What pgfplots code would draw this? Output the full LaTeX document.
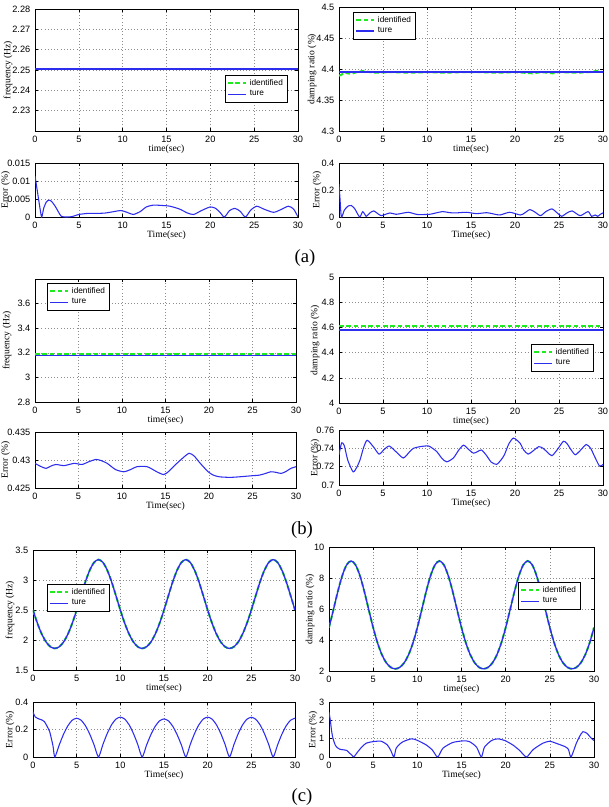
\documentclass[border=0pt]{standalone}
\usepackage{fontspec}
\usepackage{pgfplots}
\pgfplotsset{compat=1.18}
\usepackage{pgfplotstable}
\newfontfamily\lsans{Liberation Sans}
\newfontfamily\lserif{Liberation Serif}
\definecolor{mgreen}{RGB}{30,235,30}
\definecolor{mblue}{RGB}{45,45,240}
\newcommand\tickfont{\lsans\fontsize{6.9}{7}\selectfont}
\newcommand\labfont{\lserif\fontsize{7.2}{8}\selectfont}
\newcommand\legfont{\lsans\fontsize{6.2}{7}\selectfont}
\newcommand\capfont{\lserif\fontsize{14}{16}\selectfont}

\pgfplotsset{
  legend image code/.code={\draw[#1] (0pt,0pt) -- (13.5pt,0pt);},
  mat/.style={
    scale only axis, anchor=north west,
    xmin=0, xmax=30, xtick={0,5,10,15,20,25,30},
    xticklabels={0,5,10,15,20,25,30},
    scaled y ticks=false, scaled x ticks=false,
    tick align=inside, major tick length=2.2pt,
    grid=major, grid style={dotted, black!45, line width=0.35pt},
    axis line style={line width=0.5pt},
    every tick/.style={black, line width=0.4pt},
    tick label style={font=\tickfont},
    /pgf/number format/assume math mode=true,
    every axis x label/.style={at={(axis description cs:0.5,0)}, anchor=center, yshift=-13.5pt, font=\labfont},
    every axis y label/.style={at={(axis description cs:0,0.5)}, anchor=center, rotate=90, font=\labfont},
    legend style={draw=black, line width=0.4pt, fill=white, font=\legfont, inner xsep=1.5pt, inner ysep=1pt, anchor=north west, cells={anchor=west}, row sep=-1.5pt},
  },
  idf/.style={mgreen, line width=1.5pt, dash pattern=on 3.5pt off 2pt},
  tru/.style={mblue, line width=1pt},
  err/.style={mblue, line width=0.8pt, smooth, tension=0.4},
}

\pgfplotstableread{
t f d
0 2.500 4.800
0.5 2.281 5.953
1 2.100 7.130
1.5 1.967 8.152
2 1.887 8.851
2.5 1.860 9.100
3 1.887 8.851
3.5 1.967 8.152
4 2.100 7.130
4.5 2.281 5.953
5 2.500 4.800
5.5 2.738 3.803
6 2.970 3.038
6.5 3.164 2.522
7 3.294 2.233
7.5 3.340 2.140
8 3.294 2.233
8.5 3.164 2.522
9 2.970 3.038
9.5 2.738 3.803
10 2.500 4.800
10.5 2.281 5.953
11 2.100 7.130
11.5 1.967 8.152
12 1.887 8.851
12.5 1.860 9.100
13 1.887 8.851
13.5 1.967 8.152
14 2.100 7.130
14.5 2.281 5.953
15 2.500 4.800
15.5 2.738 3.803
16 2.970 3.038
16.5 3.164 2.522
17 3.294 2.233
17.5 3.340 2.140
18 3.294 2.233
18.5 3.164 2.522
19 2.970 3.038
19.5 2.738 3.803
20 2.500 4.800
20.5 2.281 5.953
21 2.100 7.130
21.5 1.967 8.152
22 1.887 8.851
22.5 1.860 9.100
23 1.887 8.851
23.5 1.967 8.152
24 2.100 7.130
24.5 2.281 5.953
25 2.500 4.800
25.5 2.738 3.803
26 2.970 3.038
26.5 3.164 2.522
27 3.294 2.233
27.5 3.340 2.140
28 3.294 2.233
28.5 3.164 2.522
29 2.970 3.038
29.5 2.738 3.803
30 2.500 4.800
}\ctab

\begin{document}
\begin{tikzpicture}
\useasboundingbox (0,0) rectangle (456.75pt,-605.25pt);

% ---------------- (a) ----------------
\begin{axis}[mat, at={(26.25pt,-6.75pt)}, width=197.25pt, height=91.5pt,
  ymin=2.22, ymax=2.28, ytick={2.23,2.24,2.25,2.26,2.27,2.28},
  yticklabels={2.23,2.24,2.25,2.26,2.27,2.28},
  xlabel={time(sec)}, ylabel={frequency (Hz)},
  ylabel style={at={([xshift=-20.25pt]axis description cs:0,0.5)}},
  legend style={at={(0.722,0.459)}}]
\addplot[idf] coordinates {(0,2.2506)(30,2.2506)}; \addlegendentry{identified}
\addplot[tru, line width=0.8pt] coordinates {(0,2.2505)(30,2.2505)}; \addlegendentry{ture}
\end{axis}

\begin{axis}[mat, at={(254.25pt,-5.25pt)}, width=198pt, height=93pt,
  ymin=4.3, ymax=4.5, ytick={4.3,4.35,4.4,4.45,4.5},
  yticklabels={4.3,4.35,4.4,4.45,4.5},
  xlabel={time(sec)}, ylabel={damping ratio (\%)},
  ylabel style={at={([xshift=-20.25pt]axis description cs:0,0.5)}},
  legend style={at={(0.053,0.96)}}]
\addplot[idf] coordinates {(0,4.389)(0.3,4.391)(0.6,4.394)(1,4.393)(1.4,4.392)(2,4.395)(2.8,4.397)(3.5,4.395)(4,4.394)(6,4.395)(8,4.394)(10,4.395)(12,4.394)(14,4.395)(16,4.395)(18,4.394)(20,4.395)(22,4.393)(23,4.395)(24.3,4.393)(25,4.395)(27,4.394)(28.5,4.395)(29.3,4.397)(30,4.395)}; \addlegendentry{identified}
\addplot[tru, line width=1.3pt] coordinates {(0,4.395)(30,4.395)}; \addlegendentry{ture}
\end{axis}

\begin{axis}[mat, at={(26.25pt,-122.25pt)}, width=197.25pt, height=40.5pt,
  ymin=0, ymax=0.015, ytick={0,0.005,0.01,0.015},
  yticklabels={0,0.005,0.01,0.015},
  xlabel={Time(sec)}, ylabel={Error (\%)},
  ylabel style={at={([xshift=-22pt]axis description cs:0,0.5)}}]
\addplot[err] coordinates {(0,0.0114)(0.25,0.0075)(0.5,0.0035)(0.76,0)(1.0,0.0025)(1.3,0.0042)(1.6,0.0047)(1.9,0.0043)(2.3,0.003)(2.7,0.0013)(3.0,0.0002)(3.5,0)(4.2,0.0001)(5,0.0007)(6,0.001)(7,0.001)(8,0.0011)(9,0.0015)(9.8,0.0018)(10.5,0.0013)(11.2,0.0007)(12,0.0015)(12.7,0.0028)(13.5,0.0033)(14.5,0.0032)(15.4,0.003)(16.5,0.0022)(17.4,0.0011)(18.1,0.0007)(19,0.0018)(20,0.0028)(20.6,0.0024)(21.1,0.0013)(21.6,0)(22.2,0.0018)(22.8,0.0024)(23.4,0.0016)(24.0,0)(24.6,0.0019)(25.3,0.003)(26.1,0.0022)(27.2,0.0013)(28.0,0.002)(28.9,0.003)(29.5,0.0022)(30,0)};
\end{axis}

\begin{axis}[mat, at={(254.25pt,-122.25pt)}, width=198pt, height=40.5pt,
  ymin=0, ymax=0.4, ytick={0,0.2,0.4},
  yticklabels={0,0.2,0.4},
  xlabel={Time(sec)}, ylabel={Error (\%)},
  ylabel style={at={([xshift=-16.5pt]axis description cs:0,0.5)}}]
\addplot[err] coordinates {(0,0.245)(0.1,0.15)(0.27,0)(0.6,0.05)(1.0,0.08)(1.4,0.085)(1.8,0.06)(2.35,0)(2.7,0.04)(3.1,0.005)(3.5,0.03)(3.95,0.045)(4.4,0.025)(4.8,0.01)(5.3,0.02)(5.8,0.03)(6.5,0.02)(7.2,0.028)(7.9,0.035)(8.5,0.025)(9,0.018)(10.3,0.02)(11,0.03)(11.8,0.04)(12.5,0.033)(13.2,0.03)(14.5,0.035)(15.6,0.025)(16.8,0.032)(17.6,0.022)(18.3,0.015)(19.4,0.035)(20.6,0.015)(21.1,0.03)(21.7,0.055)(22.3,0.035)(22.9,0.01)(23.5,0.04)(24.2,0.06)(24.8,0.03)(25.3,0.005)(25.9,0.03)(26.5,0.045)(27.4,0.01)(28.3,0.04)(28.7,0.005)(29.1,0.015)(29.4,0.005)(29.7,0.02)(30,0.03)};
\end{axis}

\node[font=\capfont] at (228.75pt,-193.5pt) {(a)};

% ---------------- (b) ----------------
\begin{axis}[mat, at={(26.25pt,-209.25pt)}, width=195.75pt, height=92.25pt,
  ymin=2.8, ymax=3.8, ytick={2.8,3,3.2,3.4,3.6},
  yticklabels={2.8,3,3.2,3.4,3.6},
  xlabel={time(sec)}, ylabel={frequency (Hz)},
  ylabel style={at={([xshift=-21pt]axis description cs:0,0.5)}},
  legend style={at={(0.046,0.967)}}]
\addplot[idf] coordinates {(0,3.193)(30,3.193)}; \addlegendentry{identified}
\addplot[tru, line width=1.1pt] coordinates {(0,3.18)(30,3.18)}; \addlegendentry{ture}
\end{axis}

\begin{axis}[mat, at={(254.25pt,-207.75pt)}, width=198pt, height=94.5pt,
  ymin=4, ymax=5, ytick={4,4.2,4.4,4.6,4.8,5},
  yticklabels={4,4.2,4.4,4.6,4.8,5},
  xlabel={time(sec)}, ylabel={damping ratio (\%)},
  ylabel style={at={([xshift=-18pt]axis description cs:0,0.5)}},
  legend style={at={(0.727,0.468)}}]
\addplot[idf] coordinates {(0,4.615)(30,4.615)}; \addlegendentry{identified}
\addplot[tru] coordinates {(0,4.58)(30,4.58)}; \addlegendentry{ture}
\end{axis}

\begin{axis}[mat, at={(26.25pt,-324pt)}, width=195.75pt, height=42pt,
  ymin=0.425, ymax=0.435, ytick={0.425,0.43,0.435},
  yticklabels={0.425,0.43,0.435},
  xlabel={Time(sec)}, ylabel={Error (\%)},
  ylabel style={at={([xshift=-22pt]axis description cs:0,0.5)}}]
\addplot[err] coordinates {(0,0.4294)(0.6,0.4289)(1.26,0.4285)(1.8,0.4289)(2.4,0.4292)(3.35,0.429)(4.5,0.4294)(5.4,0.4292)(6.2,0.4297)(7.0,0.4301)(7.6,0.4299)(8.3,0.4294)(9.25,0.4283)(10.2,0.4279)(11,0.4283)(11.7,0.4288)(12.9,0.4288)(14,0.4279)(14.8,0.4274)(15.4,0.428)(15.9,0.4288)(16.8,0.4301)(17.7,0.4312)(18.3,0.4307)(19,0.4294)(19.9,0.4279)(20.5,0.4273)(21.2,0.427)(22.4,0.4269)(23.5,0.427)(25,0.4272)(25.8,0.4273)(26.5,0.4276)(27.1,0.4279)(27.7,0.4278)(28.3,0.4276)(28.9,0.428)(29.4,0.4285)(30,0.4288)};
\end{axis}

\begin{axis}[mat, at={(254.25pt,-322.5pt)}, width=198pt, height=41.25pt,
  ymin=0.7, ymax=0.76, ytick={0.7,0.72,0.74,0.76},
  yticklabels={0.7,0.72,0.74,0.76},
  xlabel={Time(sec)}, ylabel={Error (\%)},
  ylabel style={at={([xshift=-18pt]axis description cs:0,0.5)}}]
\addplot[err] coordinates {(0,0.733)(0.3,0.746)(0.6,0.743)(1.0,0.727)(1.6,0.7144)(2.0,0.719)(2.4,0.7277)(2.8,0.741)(3.2,0.7488)(3.9,0.7418)(4.55,0.7337)(5.1,0.7385)(5.7,0.7425)(6.4,0.737)(7.3,0.7295)(8.0,0.736)(8.45,0.74)(9.2,0.7418)(10.2,0.7425)(11.1,0.7365)(11.7,0.729)(12.25,0.7253)(13,0.7295)(13.6,0.738)(14.15,0.7435)(14.7,0.739)(15.3,0.7347)(15.8,0.7368)(16.2,0.7382)(16.7,0.733)(17.3,0.725)(17.9,0.7225)(18.4,0.7272)(18.8,0.733)(19.3,0.745)(19.8,0.7512)(20.2,0.749)(20.6,0.7453)(21.0,0.738)(21.5,0.7337)(22.0,0.7368)(22.7,0.7418)(23.2,0.74)(23.7,0.7355)(24.2,0.732)(24.8,0.7385)(25.5,0.7477)(25.9,0.7453)(26.4,0.738)(26.85,0.733)(27.4,0.7375)(28.1,0.7442)(28.6,0.74)(29.0,0.732)(29.6,0.7207)(30,0.7225)};
\end{axis}

\node[font=\capfont] at (226.5pt,-397.5pt) {(b)};

% ---------------- (c) ----------------
\begin{axis}[mat, at={(24.75pt,-412.5pt)}, width=196.5pt, height=90pt,
  ymin=1.5, ymax=3.5, ytick={1.5,2,2.5,3,3.5},
  yticklabels={1.5,2,2.5,3,3.5},
  xlabel={time(sec)}, ylabel={frequency (Hz)},
  ylabel style={at={([xshift=-17.25pt]axis description cs:0,0.5)}},
  legend style={at={(0.053,0.717)}}]
\addplot[idf, smooth] table[x=t, y=f] {\ctab}; \addlegendentry{identified}
\addplot[tru, smooth] table[x=t, y=f] {\ctab}; \addlegendentry{ture}
\end{axis}

\begin{axis}[mat, at={(246.75pt,-410.25pt)}, width=198.75pt, height=93pt,
  ymin=2, ymax=10, ytick={2,4,6,8,10},
  yticklabels={2,4,6,8,10},
  xlabel={time(sec)}, ylabel={damping ratio (\%)},
  ylabel style={at={([xshift=-14.25pt]axis description cs:0,0.5)}},
  legend style={at={(0.713,0.718)}}]
\addplot[idf, smooth] table[x=t, y=d] {\ctab}; \addlegendentry{identified}
\addplot[tru, smooth] table[x=t, y=d] {\ctab}; \addlegendentry{ture}
\end{axis}

\begin{axis}[mat, at={(24.75pt,-526.5pt)}, width=196.5pt, height=41.25pt,
  ymin=0, ymax=0.4, ytick={0,0.2,0.4},
  yticklabels={0,0.2,0.4},
  xlabel={Time(sec)}, ylabel={Error (\%)},
  ylabel style={at={([xshift=-17.25pt]axis description cs:0,0.5)}}]
\addplot[err] coordinates {(0,0.33)(0.1,0.31)(0.25,0.292)(0.5,0.282)(0.76,0.275)(1.0,0.27)(1.3,0.258)(1.6,0.225)(1.9,0.186)(2.1,0.135)(2.3,0.077)(2.5,0)
(3,0.087)(3.5,0.166)(4,0.228)(4.5,0.268)(5,0.282)(5.5,0.268)(6,0.228)(6.5,0.166)(7,0.087)(7.5,0)
(8,0.09)(8.5,0.171)(9,0.235)(9.5,0.276)(10,0.29)(10.5,0.276)(11,0.235)(11.5,0.171)(12,0.09)(12.5,0)
(13,0.086)(13.5,0.163)(14,0.224)(14.5,0.263)(15,0.277)(15.5,0.263)(16,0.224)(16.5,0.163)(17,0.086)(17.5,0)
(18,0.09)(18.5,0.171)(19,0.235)(19.5,0.276)(20,0.29)(20.5,0.276)(21,0.235)(21.5,0.171)(22,0.09)(22.5,0)
(23,0.089)(23.5,0.17)(24,0.234)(24.5,0.275)(25,0.289)(25.5,0.275)(26,0.234)(26.5,0.17)(27,0.089)(27.5,0)
(28,0.087)(28.5,0.166)(29,0.228)(29.5,0.268)(30,0.282)};
\end{axis}

\begin{axis}[mat, at={(246.75pt,-526.5pt)}, width=198.75pt, height=41.25pt,
  ymin=0, ymax=3, ytick={0,1,2,3},
  yticklabels={0,1,2,3},
  xlabel={Time(sec)}, ylabel={Error (\%)},
  ylabel style={at={([xshift=-12pt]axis description cs:0,0.5)}}]
\addplot[err] coordinates {(0,2.46)(0.15,2.0)(0.3,1.4)(0.45,1.02)(0.75,0.61)(1.2,0.43)(2.0,0.36)(2.3,0.22)(2.6,0.1)(2.8,0)(3.2,0.25)(3.7,0.54)(4.2,0.75)(5,0.84)(5.9,0.86)(6.6,0.66)(7.0,0.35)(7.35,0)(7.6,0.48)(8.0,0.7)(8.4,0.84)(9.3,0.99)(9.9,0.93)(11,0.66)(11.7,0.38)(12.3,0)(12.9,0.48)(14,0.79)(15.2,0.88)(15.9,0.84)(16.7,0.54)(17.25,0)(17.6,0.54)(18.4,0.9)(19.1,0.99)(19.9,0.9)(20.8,0.66)(21.6,0.35)(22.35,0)(23.1,0.4)(24.2,0.75)(25,0.86)(25.7,0.75)(26.7,0.57)(27.1,0.42)(27.4,0)(28,0.75)(28.4,1.15)(28.75,1.38)(29.2,1.29)(29.7,1.02)(30,0.9)};
\end{axis}

\node[font=\capfont] at (226.5pt,-597.75pt) {(c)};
\end{tikzpicture}
\end{document}
